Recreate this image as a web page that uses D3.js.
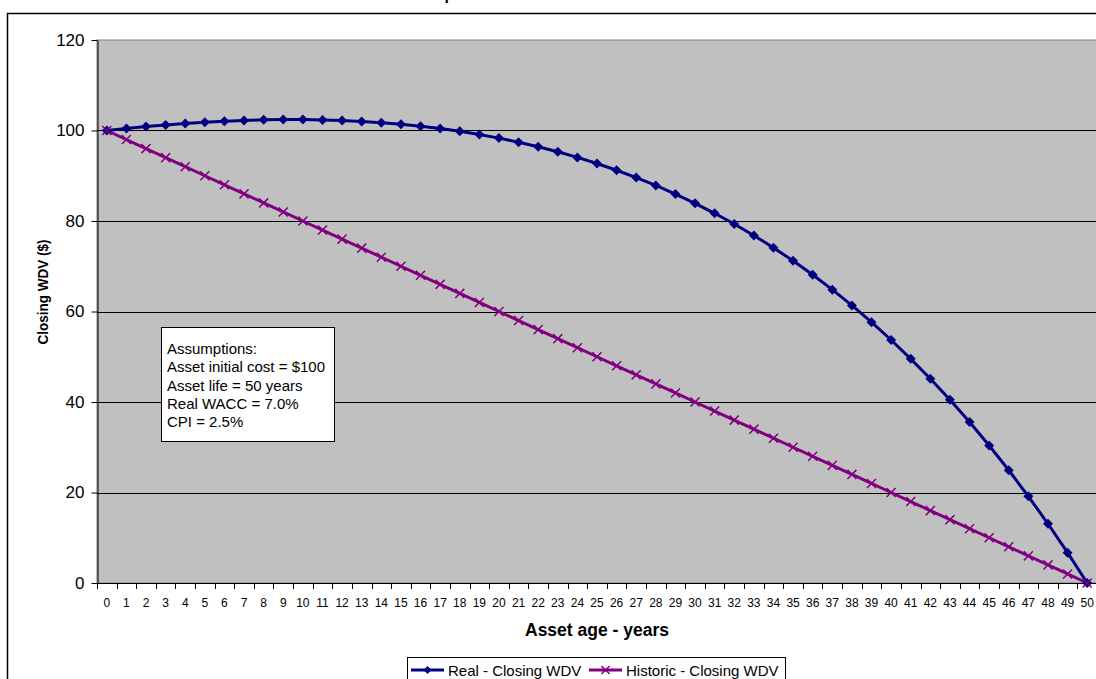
<!DOCTYPE html>
<html>
<head>
<meta charset="utf-8">
<script src="https://cdn.jsdelivr.net/npm/d3@7"></script>
<style>
  html, body { margin: 0; padding: 0; background: #fff; }
  svg { display: block; font-family: "Liberation Sans", Arial, sans-serif; }
</style>
</head>
<body>
<svg id="chart" width="1096" height="679"></svg>
<script>
// ---- data ----
const ages = d3.range(0, 51); // category labels 0..50
const realWDV = [100.00, 100.45, 100.86, 101.23, 101.55, 101.83, 102.05, 102.23, 102.35, 102.41,
  102.41, 102.34, 102.21, 102.01, 101.73, 101.38, 100.95, 100.43, 99.82, 99.12,
  98.32, 97.42, 96.41, 95.29, 94.05, 92.70, 91.21, 89.60, 87.85, 85.95,
  83.90, 81.70, 79.34, 76.80, 74.09, 71.20, 68.11, 64.83, 61.34, 57.63,
  53.70, 49.54, 45.14, 40.48, 35.57, 30.38, 24.91, 19.15, 13.09, 6.71, 0.00];
const historicWDV = [100, 98, 96, 94, 92, 90, 88, 86, 84, 82,
  80, 78, 76, 74, 72, 70, 68, 66, 64, 62,
  60, 58, 56, 54, 52, 50, 48, 46, 44, 42,
  40, 38, 36, 34, 32, 30, 28, 26, 24, 22,
  20, 18, 16, 14, 12, 10, 8, 6, 4, 2, 0];
const yTicks = [0, 20, 40, 60, 80, 100, 120];
const seriesNames = ["Real - Closing WDV", "Historic - Closing WDV"];
const assumptions = ["Assumptions:", "Asset initial cost = $100", "Asset life = 50 years", "Real WACC = 7.0%", "CPI = 2.5%"];
const titleText = "Depreciation - Real vs Historic";

// ---- layout ----
const svg = d3.select("#chart");
const L = 97, R = 1097, T = 40, B = 583;
const navy = "#000080", purple = "#800080";

const x = d3.scaleBand().domain(ages).range([L, R]);
const xc = d => x(d) + x.bandwidth() / 2;
const y = d3.scaleLinear().domain([0, 120]).range([B, T]);

// outer chart border
svg.append("rect").attr("x", 7.5).attr("y", 13.5).attr("width", 1200).attr("height", 800)
  .attr("fill", "#fff").attr("stroke", "#000").attr("stroke-width", 1.5);

// title (cropped off above the frame in the reference; only a descender shows)
svg.append("text").attr("x", 424).attr("y", -0.5).attr("font-size", 16).attr("font-weight", "bold")
  .text(titleText);

// plot area
svg.append("rect").attr("x", L).attr("y", T).attr("width", R - L).attr("height", B - T)
  .attr("fill", "#c0c0c0").attr("stroke", "#808080").attr("stroke-width", 1);

// gridlines
svg.append("g").selectAll("line").data(yTicks.filter(v => v > 0 && v < 120)).join("line")
  .attr("x1", L).attr("x2", R).attr("y1", d => Math.round(y(d)) + 0.5).attr("y2", d => Math.round(y(d)) + 0.5)
  .attr("stroke", "#000").attr("stroke-width", 1);

// y axis
const yAxis = svg.append("g").attr("transform", `translate(${L + 0.5},0)`)
  .call(d3.axisLeft(y).tickValues(yTicks).tickSize(6).tickPadding(7).tickSizeOuter(0));
yAxis.select(".domain").attr("stroke", "#000");
yAxis.selectAll(".tick line").attr("stroke", "#000");
yAxis.selectAll("text").attr("font-size", 17).attr("font-family", "Liberation Sans, Arial, sans-serif").attr("fill", "#000");

// x axis line
svg.append("line").attr("x1", L).attr("x2", R).attr("y1", B + 0.5).attr("y2", B + 0.5).attr("stroke", "#000");
// x ticks at category boundaries
const boundaries = ages.map(d => x(d)).concat([R]);
svg.append("g").selectAll("line").data(boundaries).join("line")
  .attr("x1", d => Math.round(d) + 0.5).attr("x2", d => Math.round(d) + 0.5)
  .attr("y1", B).attr("y2", B + 6).attr("stroke", "#000");
svg.append("g").selectAll("text").data(ages).join("text")
  .attr("x", d => xc(d)).attr("y", 607).attr("text-anchor", "middle")
  .attr("font-size", 12).text(d => d);

// axis titles
svg.append("text").attr("x", 597).attr("y", 636).attr("text-anchor", "middle")
  .attr("font-size", 17.5).attr("font-weight", "bold").text("Asset age - years");
svg.append("text").attr("transform", "translate(47.5,292) rotate(-90)").attr("text-anchor", "middle")
  .attr("font-size", 15.5).attr("font-weight", "bold")
  .attr("textLength", 105).attr("lengthAdjust", "spacingAndGlyphs").text("Closing WDV ($)");

// lines
const line = d3.line().x((d, i) => xc(ages[i])).y(d => y(d));
svg.append("path").datum(historicWDV).attr("d", line).attr("fill", "none")
  .attr("stroke", purple).attr("stroke-width", 3);
svg.append("path").datum(realWDV).attr("d", line).attr("fill", "none")
  .attr("stroke", navy).attr("stroke-width", 3);

// markers
const diamond = d3.symbol(d3.symbolSquare, 50);
const cross = d3.symbol(d3.symbolX, 55);
svg.append("g").selectAll("path").data(realWDV).join("path")
  .attr("d", diamond).attr("fill", navy)
  .attr("transform", (d, i) => `translate(${xc(ages[i])},${y(d)}) rotate(45)`);
svg.append("g").selectAll("path").data(historicWDV).join("path")
  .attr("d", cross).attr("fill", "none").attr("stroke", purple).attr("stroke-width", 1.5)
  .attr("transform", (d, i) => `translate(${xc(ages[i])},${y(d)})`);

// assumptions box
svg.append("rect").attr("x", 161.5).attr("y", 327.5).attr("width", 173).attr("height", 114)
  .attr("fill", "#fff").attr("stroke", "#000").attr("stroke-width", 1);
svg.append("g").selectAll("text").data(assumptions).join("text")
  .attr("x", 167).attr("y", (d, i) => 354 + i * 18.3).attr("font-size", 15).text(d => d);

// legend
svg.append("rect").attr("x", 407.5).attr("y", 657.5).attr("width", 378).attr("height", 40)
  .attr("fill", "#fff").attr("stroke", "#000").attr("stroke-width", 1);
const legendX = [411, 589];
const legendColors = [navy, purple];
seriesNames.forEach((name, i) => {
  const g = svg.append("g").attr("transform", `translate(${legendX[i]},670)`);
  g.append("line").attr("x1", 0).attr("x2", 33).attr("y1", 0).attr("y2", 0)
    .attr("stroke", legendColors[i]).attr("stroke-width", 3);
  if (i === 0) {
    g.append("path").attr("d", d3.symbol(d3.symbolSquare, 32)).attr("fill", navy)
      .attr("transform", "translate(16.5,0) rotate(45)");
  } else {
    g.append("path").attr("d", d3.symbol(d3.symbolX, 45)).attr("fill", "none")
      .attr("stroke", purple).attr("stroke-width", 1.5).attr("transform", "translate(16.5,0)");
  }
  g.append("text").attr("x", 37).attr("y", 6).attr("font-size", 15).text(name);
});
</script>
</body>
</html>
